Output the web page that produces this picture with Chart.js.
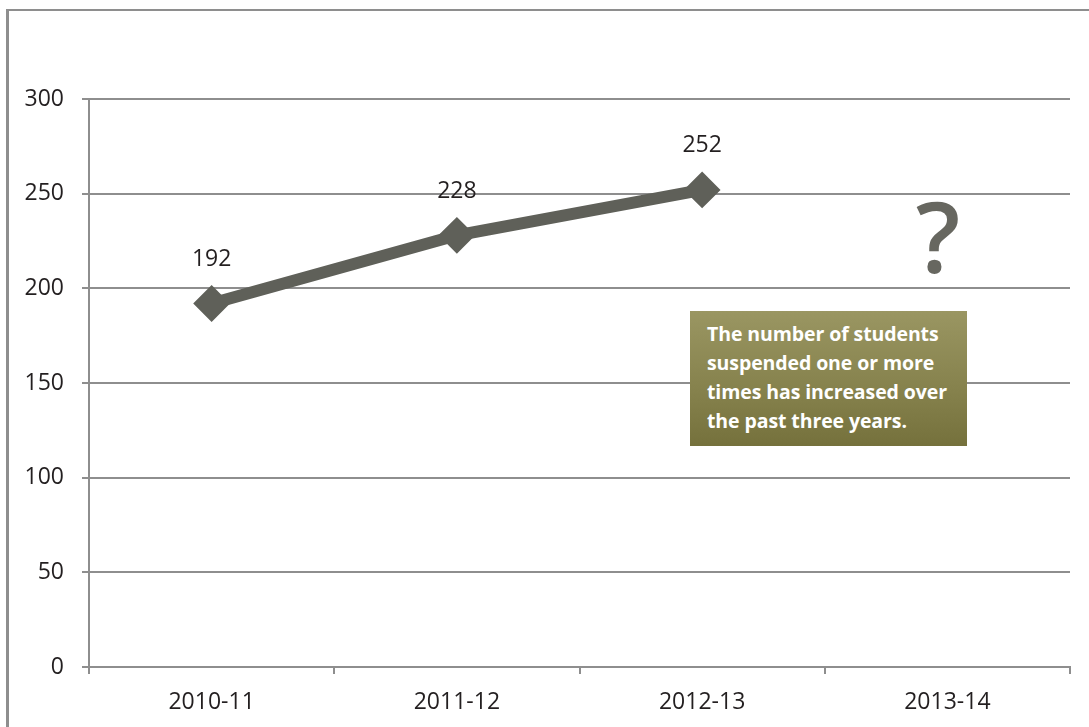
<!DOCTYPE html>
<html>
<head>
<meta charset="utf-8">
<script src="https://cdn.jsdelivr.net/npm/chart.js@4"></script>
<style>
  html, body { margin: 0; padding: 0; background: #fff; }
  #wrap { position: relative; width: 1089px; height: 727px; overflow: hidden; font-family: "Open Sans", sans-serif; }
  #frame { position: absolute; left: 6px; top: 9px; width: 1200px; height: 800px;
           border-top: 2px solid #8e8e8e; border-left: 3px solid #8e8e8e; box-sizing: border-box; }
  #chart { position: absolute; left: 0; top: 0; }
  #note { position: absolute; left: 690px; top: 311px; width: 277px; height: 135px; box-sizing: border-box;
          padding: 8px 0 0 17px; color: #fff; font-weight: 700; font-size: 19.5px; line-height: 29px;
          white-space: nowrap; letter-spacing: -0.1px;
          background: linear-gradient(to bottom, #9a9662 0%, #85814c 60%, #75713c 100%); }
  #ask { position: absolute; left: 905px; top: 175px; width: 66px; text-align: center; color: #676760;
         font-size: 98px; line-height: 120px; font-weight: 600; }
</style>
</head>
<body>
<div id="wrap">
  <canvas id="chart" width="1089" height="727"></canvas>
  <div id="frame"></div>
  <div id="ask">?</div>
  <div id="note">The number of students<br>suspended one or more<br>times has increased over<br>the past three years.</div>
</div>
<script>
const schoolYears = ['2010-11', '2011-12', '2012-13', '2013-14'];
const studentsSuspended = [192, 228, 252, null];
const yTicks = [0, 50, 100, 150, 200, 250, 300];

const gridGray = '#8e8e8e';
const textDark = '#231f20';
const lineGray = '#5f6059';

// Writes each year's count above its marker
const valueLabels = {
  id: 'valueLabels',
  afterDatasetsDraw(chart) {
    const ctx = chart.ctx;
    const meta = chart.getDatasetMeta(0);
    ctx.save();
    ctx.font = '23px "Open Sans"';
    ctx.fillStyle = textDark;
    ctx.textAlign = 'center';
    ctx.textBaseline = 'middle';
    meta.data.forEach((pt, i) => {
      const v = studentsSuspended[i];
      if (v === null) return;
      ctx.fillText(String(v), pt.x, pt.y - 44);
    });
    ctx.restore();
  }
};

new Chart(document.getElementById('chart'), {
  type: 'line',
  data: {
    labels: schoolYears,
    datasets: [{
      data: studentsSuspended,
      borderColor: lineGray,
      backgroundColor: lineGray,
      borderWidth: 12,
      pointStyle: 'rectRot',
      pointRadius: 17,
      pointBorderWidth: 2,
      pointBorderColor: lineGray,
      pointBackgroundColor: lineGray,
      tension: 0,
      spanGaps: false
    }]
  },
  options: {
    responsive: false,
    animation: false,
    layout: { padding: { left: 0, top: 99, right: 17, bottom: 0 } },
    plugins: { legend: { display: false }, tooltip: { enabled: false } },
    scales: {
      x: {
        offset: true,
        grid: { display: true, drawOnChartArea: false, drawTicks: true, tickLength: 7, color: gridGray, lineWidth: 2, offset: true },
        border: { display: true, color: gridGray, width: 2 },
        ticks: { color: textDark, font: { family: 'Open Sans', size: 23 }, padding: 15, maxRotation: 0 },
        afterFit(scale) { scale.height = 60; }
      },
      y: {
        min: 0,
        max: 300,
        afterBuildTicks(scale) { scale.ticks = yTicks.map(v => ({ value: v })); },
        grid: { color: gridGray, lineWidth: 2, tickLength: 7, drawTicks: true },
        border: { display: true, color: gridGray, width: 2 },
        ticks: { color: textDark, font: { family: 'Open Sans', size: 23 }, padding: 18 },
        afterFit(scale) { scale.width = 89; }
      }
    }
  },
  plugins: [valueLabels]
});
</script>
</body>
</html>
